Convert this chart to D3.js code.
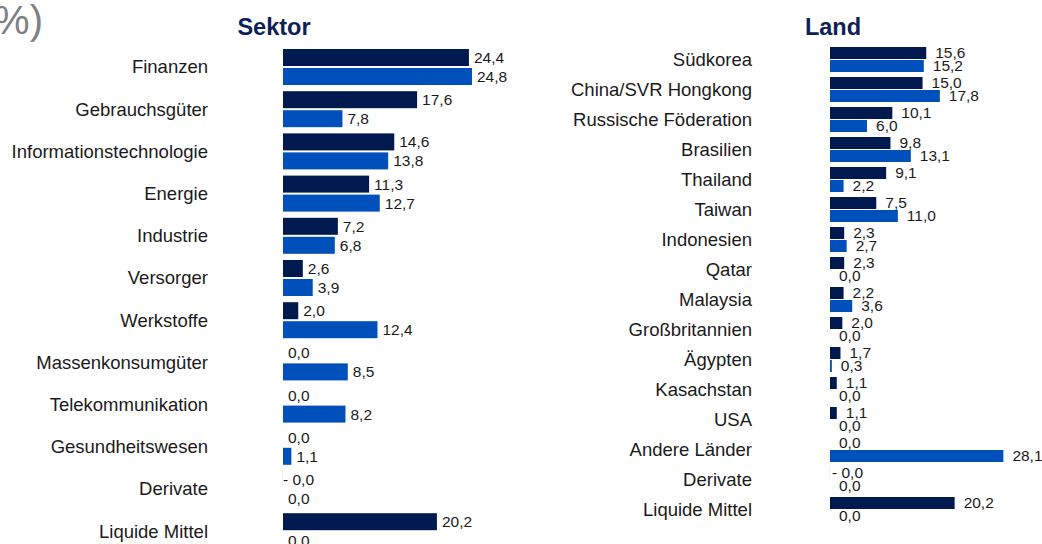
<!DOCTYPE html>
<html>
<head>
<meta charset="utf-8">
<script src="https://cdn.jsdelivr.net/npm/d3@7"></script>
<style>
  body { margin: 0; background: #fff; }
  svg { display: block; font-family: "Liberation Sans", Arial, sans-serif; }
</style>
</head>
<body>
<div id="chart"></div>
<script>
// Sektor panel
const sectors = ["Finanzen", "Gebrauchsgüter", "Informationstechnologie", "Energie", "Industrie",
  "Versorger", "Werkstoffe", "Massenkonsumgüter", "Telekommunikation", "Gesundheitswesen",
  "Derivate", "Liquide Mittel"]
const sectorFund = [24.4, 17.6, 14.6, 11.3, 7.2, 2.6, 2.0, 0.0, 0.0, 0.0, -0.01, 20.2]
const sectorIndex = [24.8, 7.8, 13.8, 12.7, 6.8, 3.9, 12.4, 8.5, 8.2, 1.1, 0.0, 0.0]

// Land panel
const countries = ["Südkorea", "China/SVR Hongkong", "Russische Föderation", "Brasilien", "Thailand",
  "Taiwan", "Indonesien", "Qatar", "Malaysia", "Großbritannien", "Ägypten", "Kasachstan", "USA",
  "Andere Länder", "Derivate", "Liquide Mittel"]
const countryFund = [15.6, 15.0, 10.1, 9.8, 9.1, 7.5, 2.3, 2.3, 2.2, 2.0, 1.7, 1.1, 1.1, 0.0, -0.01, 20.2]
const countryIndex = [15.2, 17.8, 6.0, 13.1, 2.2, 11.0, 2.7, 0.0, 3.6, 0.0, 0.3, 0.0, 0.0, 28.1, 0.0, 0.0]

const width = 1042
const height = 544
const dark = "#001a50"
const blue = "#0050bb"

const fmt = v => (v < 0 ? "- " : "") + Math.abs(v).toFixed(1).replace(".", ",")

const svg = d3.select("#chart")
  .append("svg")
  .attr("width", width)
  .attr("height", height)

// partial heading at top left
svg.append("text")
  .attr("x", 43)
  .attr("y", 34)
  .attr("text-anchor", "end")
  .attr("font-size", 40)
  .attr("fill", "#7d8083")
  .text("(%)")

function panel({ title, titleX, cats, fund, index, x0, pxPerUnit, top, pitch, barH, gap, labelX, pad, negPad, labelSize }) {
  const x = d3.scaleLinear().domain([0, 30]).range([x0, x0 + 30 * pxPerUnit])
  const y = d3.scaleBand().domain(cats).range([top, top + cats.length * pitch]).padding(0)
  const inner = d3.scaleBand().domain(["fund", "index"])
    .range([0, 2 * barH + gap]).paddingInner(gap / (barH + gap)).paddingOuter(0)

  const rows = cats.map((c, i) => ({ cat: c, fund: fund[i], index: index[i] }))
  const bars = rows.flatMap(r => [
    { cat: r.cat, key: "fund", v: r.fund },
    { cat: r.cat, key: "index", v: r.index }
  ])

  const g = svg.append("g")

  g.append("text")
    .attr("x", titleX)
    .attr("y", 35)
    .attr("text-anchor", "middle")
    .attr("font-size", 23.5)
    .attr("font-weight", "bold")
    .attr("fill", "#0c2257")
    .text(title)

  g.append("g")
    .selectAll("text")
    .data(cats)
    .join("text")
    .attr("x", labelX)
    .attr("y", d => y(d) + (2 * barH + gap) / 2)
    .attr("dy", "0.35em")
    .attr("text-anchor", "end")
    .attr("font-size", labelSize)
    .attr("fill", "#1a1a1a")
    .text(d => d)

  g.append("g")
    .selectAll("rect")
    .data(bars)
    .join("rect")
    .attr("x", d => x(Math.min(0, d.v)))
    .attr("y", d => y(d.cat) + inner(d.key))
    .attr("width", d => Math.abs(x(d.v) - x(0)))
    .attr("height", inner.bandwidth())
    .attr("fill", d => d.key === "fund" ? dark : blue)

  g.append("g")
    .selectAll("text")
    .data(bars)
    .join("text")
    .attr("x", d => d.v < 0 ? x(0) + negPad : x(d.v) + pad)
    .attr("y", d => y(d.cat) + inner(d.key) + inner.bandwidth() / 2)
    .attr("dy", "0.35em")
    .attr("font-size", 15.5)
    .attr("fill", "#1a1a1a")
    .attr("xml:space", "preserve")
    .text(d => fmt(d.v))
}

panel({
  title: "Sektor", titleX: 274, cats: sectors, fund: sectorFund, index: sectorIndex,
  x0: 283, pxPerUnit: 7.62, top: 49, pitch: 42.2, barH: 17, gap: 2,
  labelX: 208, pad: 5, negPad: 0, labelSize: 18.5
})

panel({
  title: "Land", titleX: 833, cats: countries, fund: countryFund, index: countryIndex,
  x0: 830, pxPerUnit: 6.17, top: 47, pitch: 30, barH: 12, gap: 1,
  labelX: 752, pad: 9, negPad: 2, labelSize: 18.5
})
</script>
</body>
</html>
